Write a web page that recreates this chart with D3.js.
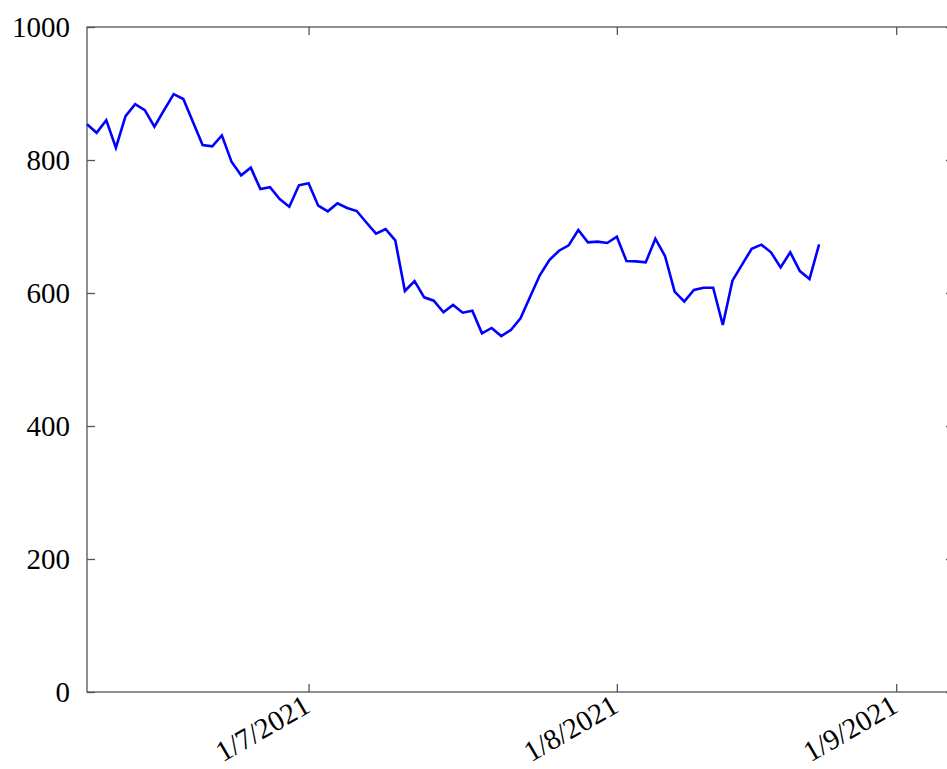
<!DOCTYPE html>
<html>
<head>
<meta charset="utf-8">
<script src="https://cdn.jsdelivr.net/npm/d3@7/dist/d3.min.js"></script>
<style>
  html, body { margin: 0; padding: 0; background: #fff; }
  svg { display: block; }
  .lbl { font-family: 'Liberation Serif', 'Times New Roman', serif; font-size: 29px; fill: #000; }
</style>
</head>
<body>
<script>
// Daily series, one value per observation (index = day number from the start)
const values = [
  853.7, 841, 860, 818.5, 866, 884, 875, 850, 875, 899,
  891.7, 857, 822.6, 820.6, 837, 797.5, 777, 788.5, 756.4, 759,
  741.4, 729.8, 762, 765, 731.3, 722.8, 734.9, 727.8, 723.3, 706,
  689.2, 696, 679.2, 603, 618, 593.5, 588.5, 571, 582, 570.4,
  573.4, 539.4, 547.4, 535.3, 544.4, 562, 594.5, 626.6, 649.6, 663.6,
  671.7, 694.7, 676.2, 677.2, 675.2, 684.7, 648, 647.6, 646, 681.7,
  655.6, 602, 587, 604.5, 608, 608, 551.9, 618.5, 642.6, 666.6,
  672.7, 661.2, 638.6, 661.2, 633, 621, 673.2
];
const xDomain = [0, 90];
const xTickValues = [23, 55, 84];
const xTickLabels = ["1/7/2021", "1/8/2021", "1/9/2021"];
const yTickValues = [0, 200, 400, 600, 800, 1000];

const W = 947, H = 769;
const m = { left: 87, top: 27, right: 954, bottom: 692 };

const svg = d3.select("body").append("svg")
  .attr("width", W).attr("height", H);

const x = d3.scaleLinear().domain(xDomain).range([m.left, m.right]);
const y = d3.scaleLinear().domain([0, 1000]).range([m.bottom, m.top]);

const axisColor = "#555";
const tickLen = 8;

function styleAxis(g) {
  g.attr("font-family", null).attr("font-size", null);
  g.select(".domain").remove();
  g.selectAll(".tick line").attr("stroke", axisColor).attr("stroke-width", 1.3);
}

// left axis with inward ticks and labels
svg.append("g")
  .attr("transform", `translate(${m.left},0)`)
  .call(d3.axisLeft(y).tickValues(yTickValues).tickSize(-tickLen).tickPadding(17).tickFormat(d3.format("d")))
  .call(styleAxis)
  .call(g => g.selectAll(".tick text").attr("class", "lbl").attr("fill", null).attr("dy", "0.33em"));

// right mirror ticks
svg.append("g")
  .attr("transform", `translate(${m.right},0)`)
  .call(d3.axisRight(y).tickValues(yTickValues).tickSize(-tickLen).tickFormat(""))
  .call(styleAxis);

// bottom axis with inward ticks and rotated date labels
svg.append("g")
  .attr("transform", `translate(0,${m.bottom})`)
  .call(d3.axisBottom(x).tickValues(xTickValues).tickSize(-tickLen)
    .tickFormat((d, i) => xTickLabels[i]))
  .call(styleAxis)
  .call(g => g.selectAll(".tick text")
    .attr("class", "lbl").attr("fill", null)
    .attr("text-anchor", "end")
    .attr("dy", null)
    .attr("y", 0)
    .attr("transform", "translate(3,19) rotate(-30)"));

// top mirror ticks
svg.append("g")
  .attr("transform", `translate(0,${m.top})`)
  .call(d3.axisTop(x).tickValues(xTickValues).tickSize(-tickLen).tickFormat(""))
  .call(styleAxis);

// plot frame
svg.append("rect")
  .attr("x", m.left).attr("y", m.top)
  .attr("width", m.right - m.left).attr("height", m.bottom - m.top)
  .attr("fill", "none").attr("stroke", axisColor).attr("stroke-width", 1.3);

// data line
const line = d3.line()
  .x((d, i) => x(i))
  .y(d => y(d));

svg.append("path")
  .datum(values)
  .attr("d", line)
  .attr("fill", "none")
  .attr("stroke", "#0000ff")
  .attr("stroke-width", 2.6)
  .attr("stroke-linejoin", "miter");
</script>
</body>
</html>
